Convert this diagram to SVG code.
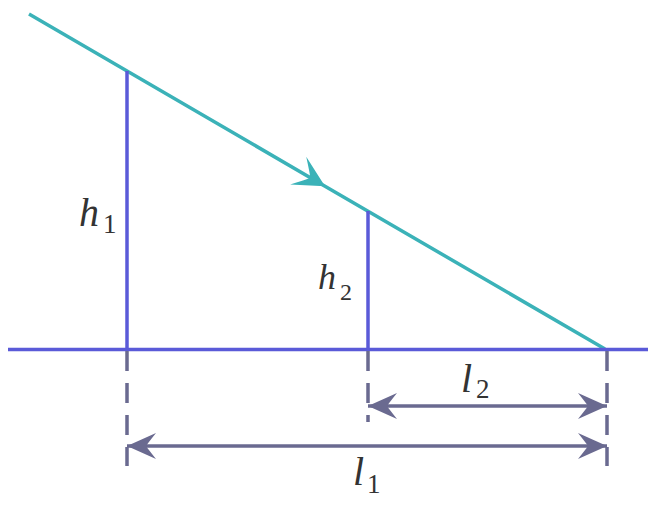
<svg xmlns="http://www.w3.org/2000/svg" width="660" height="513" viewBox="0 0 660 513">
<style>
.base{stroke:#5a5ad8;stroke-width:3.5;fill:none}
.ray{stroke:#3bb2b8;stroke-width:3.5;fill:none}
.dash{stroke:#6a6a90;stroke-width:3.5;fill:none;stroke-dasharray:20 12}
.dim{stroke:#6a6a90;stroke-width:3.5;fill:none}
.lbl{font-family:"Liberation Serif","Times New Roman",serif;font-style:italic;fill:#333;font-size:40px}
.sub{font-family:"Liberation Serif","Times New Roman",serif;font-style:normal;fill:#333;font-size:27px}
</style>
<defs>
<marker id="dimArrow" markerUnits="userSpaceOnUse" viewBox="-30 -14 32 28" refX="0" refY="0" markerWidth="32" markerHeight="28" orient="auto-start-reverse">
<path d="M0,0 L-29,-13 Q-21,-3 -19,0 Q-21,3 -29,13 Z" fill="#6a6a90"/>
</marker>
<marker id="rayArrow" markerUnits="userSpaceOnUse" viewBox="-33 -18 36 36" refX="0" refY="0" markerWidth="36" markerHeight="36" orient="auto">
<path d="M0,0 L-31,-16 Q-20,-4 -17,0 Q-20,4 -31,16 Z" fill="#3bb2b8"/>
</marker>
</defs>
<g id="connectors">
<path id="ray" class="ray" d="M29,14 L325,186.2 L605,349" marker-mid="url(#rayArrow)"/>
<line id="baseline" class="base" x1="8" y1="349.5" x2="648" y2="349.5"/>
<line id="h1-line" class="base" x1="127" y1="71" x2="127" y2="349.5"/>
<line id="h2-line" class="base" x1="368" y1="211" x2="368" y2="349.5"/>
<line class="dash" x1="127" y1="351" x2="127" y2="466"/>
<line class="dash" x1="368" y1="351" x2="368" y2="422"/>
<line class="dash" x1="607" y1="351" x2="607" y2="466"/>
<line id="l2-dim" class="dim" x1="368" y1="406" x2="607" y2="406" marker-start="url(#dimArrow)" marker-end="url(#dimArrow)"/>
<line id="l1-dim" class="dim" x1="127" y1="446" x2="607" y2="446" marker-start="url(#dimArrow)" marker-end="url(#dimArrow)"/>
</g>
<g id="label-h1"><text class="lbl" x="79" y="226">h</text><text class="sub" x="103" y="233">1</text></g>
<g id="label-h2"><text class="lbl" x="318" y="289" style="font-size:36px">h</text><text class="sub" x="340" y="300" style="font-size:24px">2</text></g>
<g id="label-l2"><text class="lbl" x="461" y="392">l</text><text class="sub" x="476" y="398">2</text></g>
<g id="label-l1"><text class="lbl" x="353" y="485">l</text><text class="sub" x="367" y="493">1</text></g>
</svg>
